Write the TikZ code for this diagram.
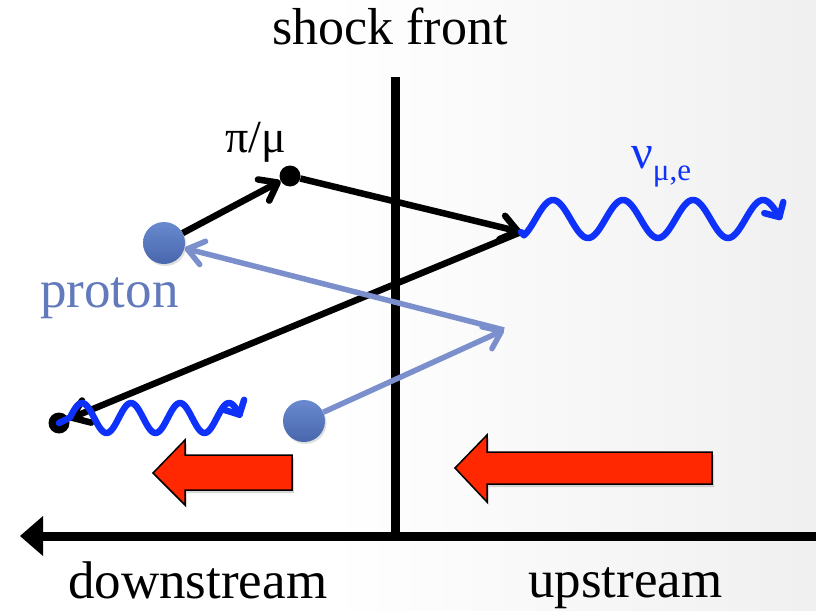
\documentclass[tikz,border=0pt]{standalone}
\usepackage{fontspec}
\setmainfont{Liberation Serif}
\usetikzlibrary{arrows.meta,shadows}
\definecolor{nublue}{RGB}{15,50,250}
\definecolor{protline}{RGB}{122,143,203}
\definecolor{balltop}{RGB}{105,138,208}
\definecolor{ballbot}{RGB}{72,102,172}
\definecolor{prottext}{RGB}{98,122,188}
\definecolor{redarrow}{RGB}{255,40,0}
\begin{document}
\begin{tikzpicture}[x=1pt,y=-1pt,
  txt/.style={inner sep=0pt,anchor=base west},
  blk/.style={line width=6.5pt,black,-{Straight Barb[length=16pt,width=24pt,round]}},
  plin/.style={line width=5.5pt,protline,-{Straight Barb[length=16pt,width=24pt,round]}},
  wave/.style={line width=6.5pt,nublue,line cap=round,line join=round,-{Straight Barb[length=11pt,width=22pt,round]}},
  dotnode/.style={circle,fill=black,minimum size=21pt,inner sep=0pt},
  ballnode/.style={circle,minimum size=42pt,inner sep=0pt,top color=balltop,bottom color=ballbot,
    drop shadow={opacity=0.25,shadow xshift=1.5pt,shadow yshift=-2pt}},
  bigarrow/.style={fill=redarrow,draw=black,line width=1.5pt,line join=miter,
    drop shadow={opacity=0.3,shadow xshift=2pt,shadow yshift=-3pt}}
]
\useasboundingbox (0,0) rectangle (816,610);
\fill[white] (0,0) rectangle (816,610);
\shade[left color=white,right color=black!6] (330,0) rectangle (816,610);

% coordinates
\coordinate (shocktop) at (395,77);
\coordinate (shockbot) at (395,541);
\coordinate (axR) at (816,536);
\coordinate (axL) at (20,536);
\coordinate (turn) at (521,232);
\coordinate (pturn) at (504,330);

% texts
\node[txt,font=\fontsize{52}{60}\selectfont] (shock) at (272,45) {shock front};
\node[txt,font=\fontsize{53}{60}\selectfont] (down) at (68,598) {downstream};
\node[txt,font=\fontsize{53}{60}\selectfont] (up) at (528,597) {upstream};
\node[txt,font=\fontsize{53}{60}\selectfont,text=prottext] (plab) at (40,307) {proton};
\node[txt,font=\fontsize{46}{52}\selectfont] (pilab) at (225,152) {π/μ};
\node[txt,text=nublue] (nulab) at (631,168) {{\fontsize{48}{54}\selectfont ν}\raisebox{-12pt}{\fontsize{31}{36}\selectfont μ,e}};

% red arrows
\path[bigarrow] (153,473) -- (185,440) -- (185,455) -- (292,455) -- (292,490) -- (185,490) -- (185,505) -- cycle;
\path[bigarrow] (455,468) -- (487,435) -- (487,452) -- (712,452) -- (712,484) -- (487,484) -- (487,502) -- cycle;

% shock front and axis
\draw[line width=9pt] (shocktop) -- (shockbot);
\draw[line width=9pt,-{Triangle[length=23pt,width=40pt,line width=0pt]}] (axR) -- (axL);

% particles
\node[ballnode] (b1) at (164,243) {};
\node[ballnode] (b2) at (304,421) {};
\node[dotnode] (pi) at (290,176) {};
\node[dotnode] (mu) at (59,423) {};

% black trajectories
\draw[blk] (b1) -- (pi);
\draw[blk] (pi) -- (turn);
\draw[blk] (turn) -- (mu);

% proton trajectories
\draw[plin] (b2) -- (pturn);
\draw[plin] (pturn) -- (b1);

% neutrino waves
\draw[wave] (mu.center) -- plot[domain=70:241,samples=120] (\x,{418-15*cos((\x-82)/49*360)});
\draw[wave] (turn) -- plot[domain=524:781,samples=160] (\x,{219-19*cos((\x-553)/70*360)});
\end{tikzpicture}
\end{document}
